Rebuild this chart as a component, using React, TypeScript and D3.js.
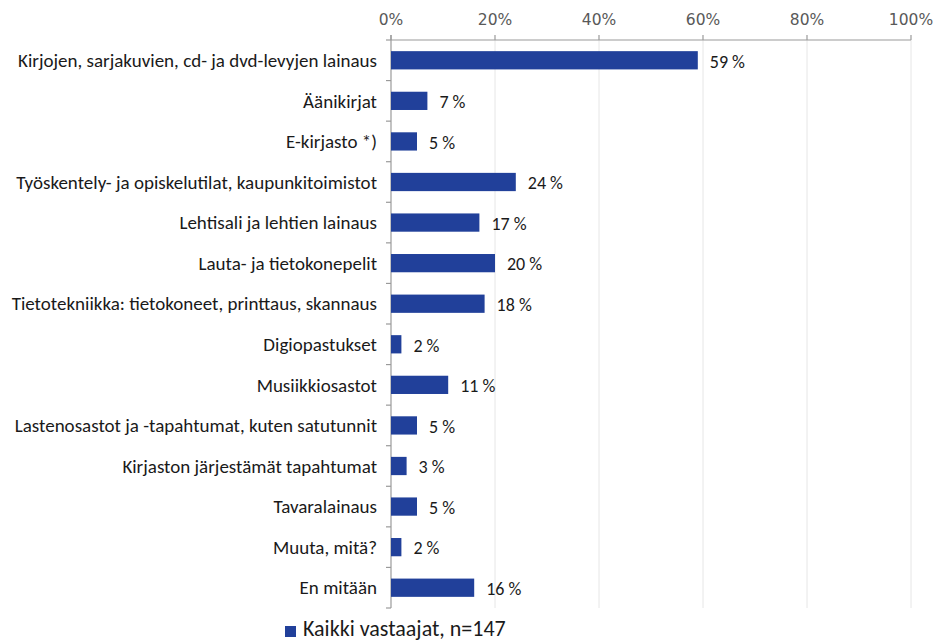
import React from "react";
import * as d3 from "d3";

const categories = [
  "Kirjojen, sarjakuvien, cd- ja dvd-levyjen lainaus",
  "Äänikirjat",
  "E-kirjasto *)",
  "Työskentely- ja opiskelutilat, kaupunkitoimistot",
  "Lehtisali ja lehtien lainaus",
  "Lauta- ja tietokonepelit",
  "Tietotekniikka: tietokoneet, printtaus, skannaus",
  "Digiopastukset",
  "Musiikkiosastot",
  "Lastenosastot ja -tapahtumat, kuten satutunnit",
  "Kirjaston järjestämät tapahtumat",
  "Tavaralainaus",
  "Muuta, mitä?",
  "En mitään",
];
const values = [59, 7, 5, 24, 17, 20, 18, 2, 11, 5, 3, 5, 2, 16];
const xTicks = [0, 20, 40, 60, 80, 100];
const seriesName = "Kaikki vastaajat, n=147";

const W = 938;
const H = 643;
const left = 391;
const right = 911;
const top = 40;
const bottom = 608;
const barColor = "#21409a";
const labelFont = "Carlito, Calibri, Lato, 'Open Sans', sans-serif";

export default function App() {
  const x = d3.scaleLinear().domain([0, 100]).range([left, right]);
  const y = d3.scaleBand<string>().domain(categories).range([top, bottom]).paddingInner(0.55).paddingOuter(0.275);
  const bandStep = (bottom - top) / categories.length;
  const boundaries = d3.range(categories.length + 1).map((i) => top + i * bandStep);

  return (
    <svg width={W} height={H} style={{ position: "absolute", left: 0, top: 0, background: "#fff" }}>
      {xTicks.slice(1).map((t) => (
        <line key={"g" + t} x1={x(t)} x2={x(t)} y1={top} y2={bottom} stroke="#e6e6e6" strokeWidth={1} />
      ))}
      <line x1={left} x2={right} y1={top} y2={top} stroke="#9a9a9a" strokeWidth={1.2} />
      {xTicks.map((t) => (
        <g key={"t" + t}>
          <line x1={x(t)} x2={x(t)} y1={top - 5} y2={top} stroke="#9a9a9a" strokeWidth={1.2} />
          <text x={x(t)} y={top - 15} textAnchor="middle" fontFamily="'URW Gothic', 'Century Gothic', 'DejaVu Sans', sans-serif" fontSize={15.5} fill="#595959">
            {t}%
          </text>
        </g>
      ))}
      <line x1={left} x2={left} y1={top - 5} y2={bottom} stroke="#9a9a9a" strokeWidth={1.2} />
      {boundaries.map((b, i) => (
        <line key={"yt" + i} x1={left - 5} x2={left} y1={b} y2={b} stroke="#9a9a9a" strokeWidth={1.2} />
      ))}
      {categories.map((c, i) => (
        <g key={c}>
          <rect x={x(0)} y={y(c)!} width={x(values[i]) - x(0)} height={y.bandwidth()} fill={barColor} />
          <text x={left - 14} y={y(c)! + y.bandwidth() / 2} dy="0.35em" textAnchor="end" fontFamily={labelFont} fontSize={19} fill="#1a1a1a">
            {c}
          </text>
          <text x={x(values[i]) + 12} y={y(c)! + y.bandwidth() / 2 + 1} dy="0.35em" textAnchor="start" fontFamily={labelFont} fontSize={18} fill="#1a1a1a">
            {values[i]} %
          </text>
        </g>
      ))}
      <rect x={285} y={626} width={11} height={11} fill={barColor} />
      <text x={303} y={636} fontFamily={labelFont} fontSize={22} fill="#1a1a1a">
        {seriesName}
      </text>
    </svg>
  );
}
